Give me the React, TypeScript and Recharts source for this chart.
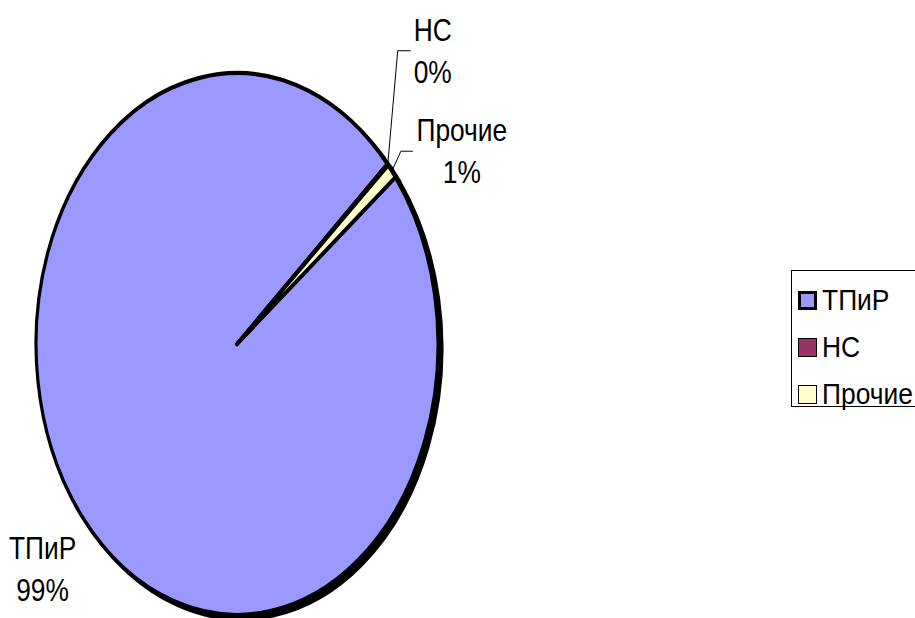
import { Legend, Pie, PieChart } from "recharts";

const categories = ["ТПиР", "НС", "Прочие"];
const shares = [99.0, 0.1, 0.9];
const colors = ["#9999FF", "#993366", "#FFFFCC"];

const pieData = categories.map((name, i) => ({ name, value: shares[i], fill: colors[i] }));
const shadowData = categories.map((name, i) => ({ name, value: shares[i] }));

const FONT = "'Liberation Sans', Arial, sans-serif";
const CX = 237;
const CY = 344;
const RX = 201;
const Y_SCALE = 1.348;
const SHADOW = 4;

// where each label block sits relative to the slice edge, plus its leader line
const labelLayout = [
  { dx: -40, dy: 52, leader: false, elbow: 0, end: 0 },
  { dx: 45, dy: -114, leader: true, elbow: -35, end: -22 },
  { dx: 70, dy: -20, leader: true, elbow: -61, end: -49 },
];

const RAD = Math.PI / 180;

function NarrowText({ x, y, children }: any) {
  return (
    <text
      transform={`translate(${x},${y}) scale(0.85,1)`}
      x={0}
      y={0}
      textAnchor="middle"
      fontFamily={FONT}
      fontSize={31}
      fill="#000"
    >
      {children}
    </text>
  );
}

function renderLabel(props: any) {
  const { cx, cy, midAngle, outerRadius, percent, name, index } = props;
  const lay = labelLayout[index];
  const ex = cx + outerRadius * Math.cos(midAngle * RAD);
  const ey = cy - outerRadius * Y_SCALE * Math.sin(midAngle * RAD);
  const bx = ex + lay.dx;
  const by = ey + lay.dy;
  return (
    <g>
      {lay.leader && (
        <polyline
          points={`${ex},${ey} ${bx + lay.elbow},${by} ${bx + lay.end},${by}`}
          fill="none"
          stroke="#000"
          strokeWidth={1}
        />
      )}
      <NarrowText x={bx} y={by - 10}>{name}</NarrowText>
      <NarrowText x={bx} y={by + 32}>{Math.round(percent * 100)}%</NarrowText>
    </g>
  );
}

function renderLegend() {
  return (
    <div
      style={{
        position: "relative",
        border: "1px solid #000",
        background: "#fff",
        width: 140,
        height: 137,
        boxSizing: "border-box",
        fontFamily: FONT,
        fontSize: 30,
      }}
    >
      {categories.map((name, i) => (
        <div
          key={name}
          style={{
            position: "absolute",
            left: 6,
            top: 5 + i * 47,
            display: "flex",
            alignItems: "center",
            height: 48,
            lineHeight: "48px",
            whiteSpace: "nowrap",
          }}
        >
          <span
            style={{
              display: "inline-block",
              width: 19,
              height: 19,
              boxSizing: "border-box",
              background: colors[i],
              border: `${i === 0 ? 3.5 : 1.5}px solid #000`,
              marginRight: 5,
              flexShrink: 0,
            }}
          />
          <span style={{ display: "inline-block", transform: "scaleX(0.88)", transformOrigin: "left center" }}>
            {name}
          </span>
        </div>
      ))}
    </div>
  );
}

export default function App() {
  return (
    <div style={{ position: "absolute", left: 0, top: 0, width: 915, height: 618, background: "#fff", overflow: "hidden" }}>
      <style>{`
        .pie-main .recharts-pie-sector { transform-origin: ${CX}px ${CY}px; transform: scaleY(${Y_SCALE}); }
        .pie-shadow .recharts-pie-sector { transform-origin: ${CX + SHADOW}px ${CY + SHADOW}px; transform: scaleY(${Y_SCALE}); }
        .pie-main .recharts-pie-sector path { stroke-width: 3.2px; stroke-linejoin: round; }
      `}</style>
      <PieChart width={915} height={618} margin={{ top: 0, right: 0, bottom: 0, left: 0 }}>
        <Pie
          className="pie-shadow"
          data={shadowData}
          dataKey="value"
          nameKey="name"
          cx={CX + SHADOW}
          cy={CY + SHADOW}
          outerRadius={RX}
          startAngle={38}
          endAngle={-322}
          fill="#000"
          stroke="#000"
          strokeWidth={3}
          legendType="none"
          label={false}
          labelLine={false}
          isAnimationActive={false}
        />
        <Pie
          className="pie-main"
          data={pieData}
          dataKey="value"
          nameKey="name"
          cx={CX}
          cy={CY}
          outerRadius={RX}
          startAngle={38}
          endAngle={-322}
          stroke="#000"
          strokeWidth={3.2}
          label={renderLabel}
          labelLine={false}
          isAnimationActive={false}
        />
        <Legend
          content={renderLegend}
          wrapperStyle={{ position: "absolute", left: 791, top: 270, width: 140, height: 137 }}
        />
      </PieChart>
    </div>
  );
}
